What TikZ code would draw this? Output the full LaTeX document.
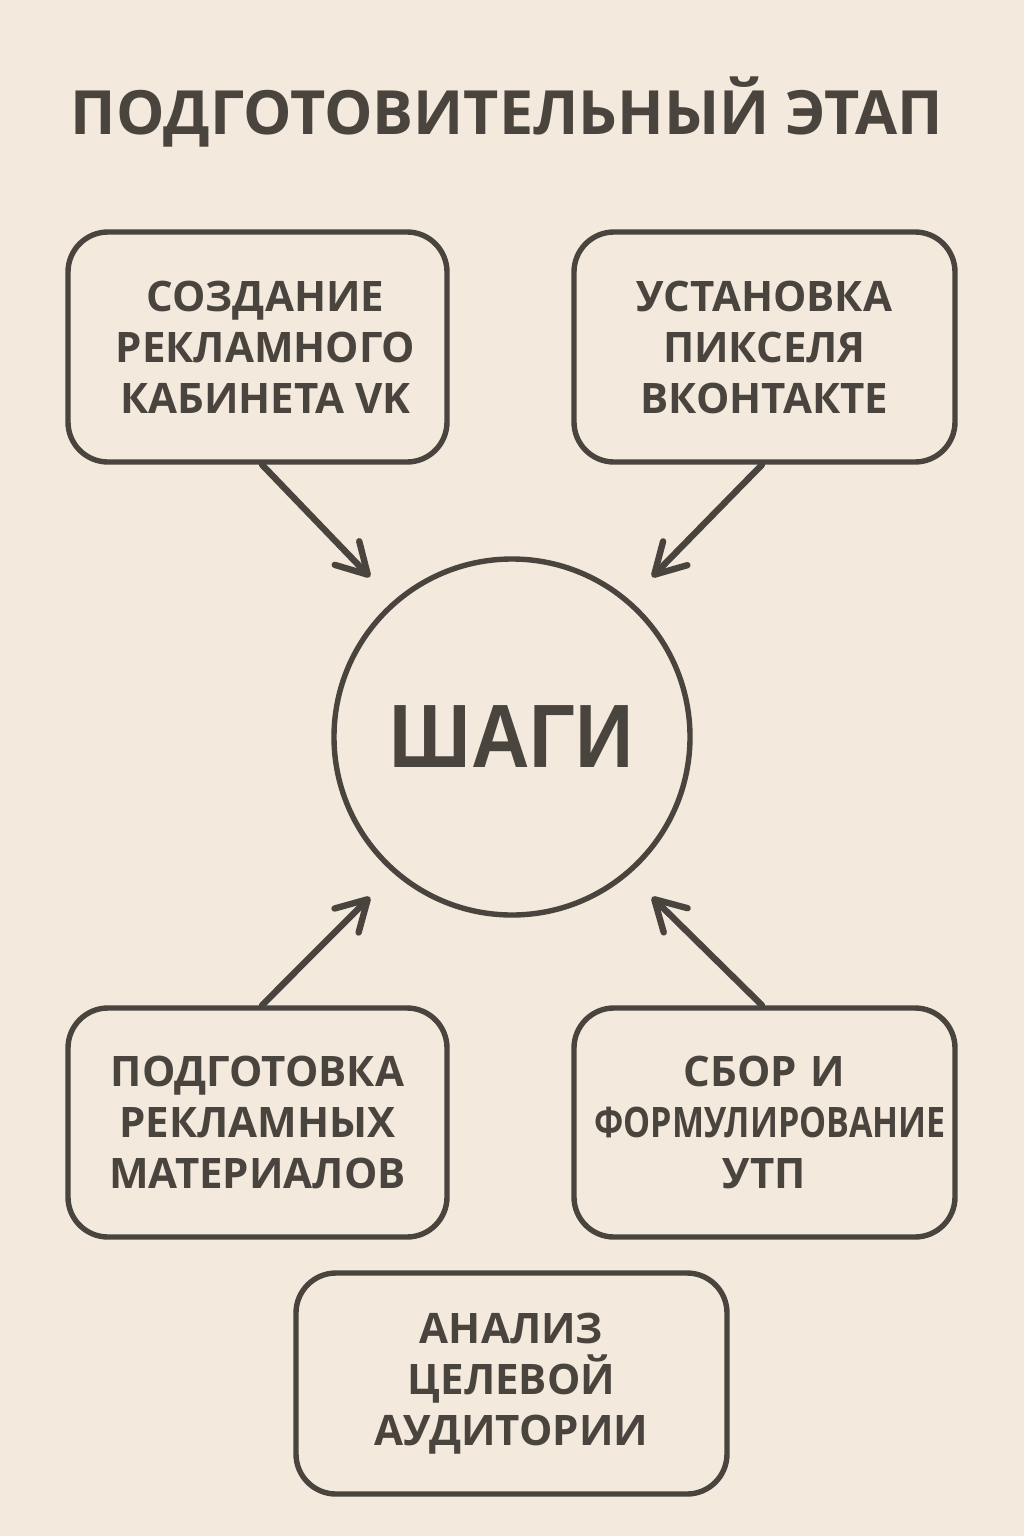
\documentclass[tikz,border=0pt]{standalone}
\usepackage{fontspec}
\setmainfont{Open Sans}
\newfontfamily\arialish{Liberation Sans}
\usetikzlibrary{arrows.meta}
\definecolor{bg}{RGB}{243,233,220}
\definecolor{ink}{RGB}{74,68,62}
\begin{document}
\begin{tikzpicture}[x=0.5pt,y=-0.5pt,
  box/.style={draw=ink,line width=2.7pt,rounded corners=20pt,fill=bg,text=ink,
    align=center,font=\bfseries\fontsize{21}{25.5}\selectfont,inner sep=0pt},
  conn/.style={draw=ink,line width=3.2pt,line cap=round,
    -{Straight Barb[length=15pt,width=17pt,line cap=round,line join=round]}}]
\fill[bg] (0,0) rectangle (1024,1536);
\useasboundingbox (0,0) rectangle (1024,1536);
\node[text=ink,font=\bfseries\fontsize{30.5}{36}\selectfont] (title) at (507,112) {ПОДГОТОВИТЕЛЬНЫЙ ЭТАП};
\node[box,minimum width=189.5pt,minimum height=115pt] (b1) at (257.5,347) {\hspace*{8pt}СОЗДАНИЕ\\\hspace*{8pt}РЕКЛАМНОГО\\\hspace*{8pt}КАБИНЕТА VK};
\node[box,minimum width=190.5pt,minimum height=115pt] (b2) at (764.5,347) {УСТАНОВКА\\ПИКСЕЛЯ\\ВКОНТАКТЕ};
\node[box,minimum width=189.5pt,minimum height=114.5pt] (b3) at (257.5,1122.5) {ПОДГОТОВКА\\РЕКЛАМНЫХ\\МАТЕРИАЛОВ};
\node[box,minimum width=190.5pt,minimum height=114.5pt,text width=170pt] (b4) at (764.5,1122.5) {СБОР И\\\scalebox{0.81}[1]{ФОРМУЛИРОВАНИЕ}\\УТП};
\node[box,minimum width=215.5pt,minimum height=110.5pt] (b5) at (511.5,1383.5) {АНАЛИЗ\\ЦЕЛЕВОЙ\\АУДИТОРИИ};
\node[draw=ink,line width=2.7pt,circle,minimum size=178pt,inner sep=0pt,text=ink] (c) at (512,737)
  {\scalebox{0.9}[1]{\arialish\bfseries\fontsize{45}{50}\selectfont ШАГИ}};
\coordinate (t1) at (370,577);
\coordinate (t2) at (652,577);
\coordinate (t3) at (370,897);
\coordinate (t4) at (652,897);
\draw[conn] (b1.south) ++(4.5,0) -- (t1);
\draw[conn] (b2.south) ++(-2.5,0) -- (t2);
\draw[conn] (b3.north) ++(4.5,0) -- (t3);
\draw[conn] (b4.north) ++(-2.5,0) -- (t4);
\end{tikzpicture}
\end{document}
